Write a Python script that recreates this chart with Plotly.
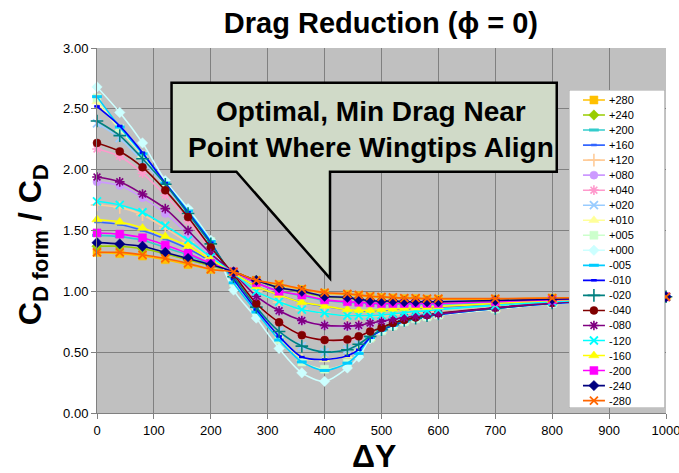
import plotly.graph_objects as go

# ---------------- data ----------------
dY = [0, 40, 80, 120, 160, 200, 240, 280, 320, 360, 400, 440, 460, 480, 500, 520, 540, 560, 580, 600, 700, 800, 900, 1000]

series_names = ["+280", "+240", "+200", "+160", "+120", "+080", "+040", "+020", "+010", "+005", "+000",
                "-005", "-010", "-020", "-040", "-080", "-120", "-160", "-200", "-240", "-280"]

p280 = [1.32, 1.31, 1.29, 1.26, 1.22, 1.18, 1.16, 1.09, 1.055, 1.015, 0.985, 0.975, 0.965, 0.955, 0.95, 0.945, 0.94, 0.94, 0.935, 0.935, 0.935, 0.945, 0.95, 0.955]
p240 = [1.37, 1.37, 1.35, 1.31, 1.26, 1.21, 1.16, 1.09, 1.03, 0.995, 0.955, 0.945, 0.93, 0.92, 0.915, 0.915, 0.91, 0.91, 0.91, 0.91, 0.92, 0.935, 0.945, 0.955]
p200 = [1.46, 1.45, 1.42, 1.36, 1.30, 1.22, 1.16, 1.07, 1.00, 0.965, 0.925, 0.91, 0.905, 0.90, 0.895, 0.895, 0.895, 0.895, 0.895, 0.895, 0.91, 0.93, 0.945, 0.955]
p160 = [1.57, 1.55, 1.50, 1.43, 1.35, 1.25, 1.15, 1.04, 0.97, 0.91, 0.875, 0.85, 0.84, 0.84, 0.845, 0.85, 0.855, 0.86, 0.865, 0.87, 0.895, 0.92, 0.94, 0.955]
p120 = [1.71, 1.69, 1.63, 1.52, 1.40, 1.27, 1.15, 1.00, 0.91, 0.85, 0.82, 0.80, 0.795, 0.795, 0.80, 0.81, 0.82, 0.83, 0.835, 0.845, 0.88, 0.91, 0.935, 0.955]
p080 = [1.90, 1.87, 1.77, 1.64, 1.47, 1.30, 1.15, 0.96, 0.84, 0.76, 0.72, 0.71, 0.715, 0.735, 0.75, 0.765, 0.78, 0.79, 0.80, 0.81, 0.86, 0.90, 0.93, 0.955]
p040 = [2.17, 2.11, 1.97, 1.79, 1.58, 1.35, 1.14, 0.90, 0.745, 0.64, 0.60, 0.60, 0.625, 0.665, 0.695, 0.735, 0.76, 0.78, 0.80, 0.815, 0.86, 0.90, 0.93, 0.955]
p020 = [2.38, 2.26, 2.07, 1.87, 1.63, 1.38, 1.12, 0.87, 0.67, 0.55, 0.50, 0.52, 0.56, 0.625, 0.68, 0.72, 0.755, 0.775, 0.795, 0.81, 0.855, 0.90, 0.93, 0.955]
p010 = [2.56, 2.33, 2.12, 1.89, 1.65, 1.40, 1.10, 0.85, 0.62, 0.45, 0.44, 0.47, 0.52, 0.615, 0.675, 0.715, 0.75, 0.775, 0.79, 0.805, 0.855, 0.90, 0.93, 0.955]
p005 = [2.59, 2.34, 2.12, 1.89, 1.66, 1.41, 1.07, 0.83, 0.60, 0.42, 0.36, 0.41, 0.49, 0.615, 0.675, 0.715, 0.75, 0.775, 0.79, 0.805, 0.855, 0.90, 0.93, 0.955]
p000 = [2.68, 2.47, 2.22, 1.91, 1.68, 1.42, 1.01, 0.78, 0.53, 0.33, 0.26, 0.37, 0.46, 0.61, 0.675, 0.715, 0.75, 0.775, 0.79, 0.805, 0.855, 0.90, 0.93, 0.955]
m005 = [2.60, 2.35, 2.13, 1.89, 1.66, 1.41, 1.07, 0.83, 0.60, 0.42, 0.35, 0.41, 0.49, 0.62, 0.68, 0.72, 0.755, 0.775, 0.795, 0.81, 0.86, 0.90, 0.93, 0.955]
m010 = [2.52, 2.36, 2.14, 1.89, 1.65, 1.40, 1.10, 0.85, 0.63, 0.46, 0.44, 0.47, 0.52, 0.62, 0.68, 0.72, 0.755, 0.78, 0.795, 0.81, 0.86, 0.90, 0.93, 0.955]
m020 = [2.40, 2.28, 2.09, 1.88, 1.64, 1.39, 1.12, 0.87, 0.67, 0.55, 0.50, 0.52, 0.565, 0.63, 0.685, 0.725, 0.76, 0.78, 0.80, 0.815, 0.86, 0.905, 0.93, 0.955]
m040 = [2.22, 2.15, 2.02, 1.83, 1.61, 1.36, 1.14, 0.90, 0.745, 0.64, 0.60, 0.605, 0.63, 0.67, 0.70, 0.74, 0.765, 0.785, 0.805, 0.82, 0.865, 0.905, 0.93, 0.955]
m080 = [1.94, 1.90, 1.80, 1.68, 1.50, 1.31, 1.15, 0.96, 0.84, 0.76, 0.72, 0.715, 0.72, 0.74, 0.755, 0.77, 0.785, 0.795, 0.805, 0.815, 0.865, 0.905, 0.93, 0.955]
m120 = [1.74, 1.71, 1.65, 1.54, 1.42, 1.28, 1.15, 1.00, 0.915, 0.85, 0.82, 0.80, 0.80, 0.80, 0.805, 0.815, 0.825, 0.835, 0.84, 0.85, 0.885, 0.915, 0.935, 0.955]
m160 = [1.59, 1.57, 1.52, 1.45, 1.37, 1.26, 1.15, 1.04, 0.97, 0.91, 0.88, 0.85, 0.845, 0.845, 0.85, 0.855, 0.86, 0.865, 0.87, 0.875, 0.90, 0.925, 0.94, 0.955]
m200 = [1.48, 1.47, 1.44, 1.38, 1.31, 1.23, 1.16, 1.07, 1.00, 0.97, 0.93, 0.915, 0.91, 0.905, 0.90, 0.90, 0.90, 0.90, 0.90, 0.90, 0.915, 0.93, 0.945, 0.955]
m240 = [1.40, 1.39, 1.37, 1.32, 1.27, 1.22, 1.16, 1.09, 1.03, 1.00, 0.96, 0.95, 0.935, 0.925, 0.92, 0.92, 0.915, 0.915, 0.915, 0.915, 0.925, 0.935, 0.945, 0.955]
m280 = [1.32, 1.32, 1.30, 1.27, 1.23, 1.18, 1.16, 1.09, 1.06, 1.02, 0.99, 0.98, 0.97, 0.96, 0.955, 0.95, 0.945, 0.945, 0.94, 0.94, 0.94, 0.945, 0.95, 0.955]

series_values = [p280, p240, p200, p160, p120, p080, p040, p020, p010, p005, p000,
                 m005, m010, m020, m040, m080, m120, m160, m200, m240, m280]

x_ticks = [0, 100, 200, 300, 400, 500, 600, 700, 800, 900, 1000]
y_ticks = [0.0, 0.5, 1.0, 1.5, 2.0, 2.5, 3.0]

# ---------------- styles ----------------
colors = ["#FFC000", "#99CC00", "#33CCCC", "#3366FF", "#FFCC99", "#CC99FF", "#FF99CC", "#99CCFF", "#FFFF99", "#CCFFCC", "#CCFFFF",
          "#00CCFF", "#0000FF", "#008080", "#800000", "#800080", "#00FFFF", "#FFFF00", "#FF00FF", "#000080", "#FF6600"]
symbols = ["square", "diamond", "dash", "dot", "plus", "circle", "star", "x", "triangle-up", "square", "diamond",
           "dash", "dot", "plus", "circle", "star", "x", "triangle-up", "square", "diamond", "x"]

FONT = "Liberation Sans, Arial, sans-serif"


def marker_style(sym, col):
    if sym == "dash":
        return dict(symbol="line-ew", size=7, color=col, line=dict(width=3, color=col))
    if sym == "dot":
        return dict(symbol="line-ew", size=4, color=col, line=dict(width=2.5, color=col))
    if sym == "plus":
        return dict(symbol="cross-thin-open", size=9, color=col, line=dict(width=1.6, color=col))
    if sym == "star":
        return dict(symbol="asterisk-open", size=8, color=col, line=dict(width=1.6, color=col))
    if sym == "x":
        return dict(symbol="x-thin-open", size=8, color=col, line=dict(width=1.8, color=col))
    if sym == "triangle-up":
        return dict(symbol="triangle-up", size=9, color=col, line=dict(width=0.5, color=col))
    if sym == "circle":
        return dict(symbol="circle", size=8, color=col, line=dict(width=0.5, color=col))
    if sym == "diamond":
        return dict(symbol="diamond", size=8, color=col, line=dict(width=0.5, color=col))
    return dict(symbol="square", size=8, color=col, line=dict(width=0.5, color=col))


fig = go.Figure()

for name, vals, col, sym in zip(series_names, series_values, colors, symbols):
    fig.add_trace(go.Scatter(
        x=dY, y=vals, name=name, mode="lines+markers",
        line=dict(color=col, width=1.6, shape="spline", smoothing=0.8),
        marker=marker_style(sym, col), cliponaxis=False, showlegend=False,
        xaxis="x", yaxis="y"))

# ---------------- custom legend (inset axes) ----------------
LX0, LXM, LX1, LXT = 0.146, 0.26, 0.375, 0.40
ROW_TOP, ROW_BOT = 0.665, -20.49
for i, (name, col, sym) in enumerate(zip(series_names, colors, symbols)):
    row = -i
    fig.add_trace(go.Scatter(x=[LX0, LX1], y=[row, row], mode="lines",
                             line=dict(color=col, width=1.6), showlegend=False,
                             xaxis="x2", yaxis="y2", hoverinfo="skip"))
    fig.add_trace(go.Scatter(x=[LXM], y=[row], mode="markers",
                             marker=marker_style(sym, col), showlegend=False,
                             xaxis="x2", yaxis="y2", hoverinfo="skip"))
    fig.add_annotation(x=LXT, y=row, xref="x2", yref="y2", text=name, showarrow=False,
                       xanchor="left", yanchor="middle", font=dict(family=FONT, size=11, color="black"))

fig.add_shape(type="rect", xref="x2", yref="y2", x0=0, x1=1, y0=ROW_BOT, y1=ROW_TOP,
              fillcolor="white", line=dict(color="#A0A0A0", width=1), layer="below")
fig.add_annotation(x=0.56, y=1.55, xref="x2", yref="y2", text="<b>Δ Z</b>", showarrow=False,
                   xanchor="center", yanchor="middle", font=dict(family=FONT, size=14, color="black"))

# ---------------- callout ----------------
fig.add_shape(type="path", xref="x", yref="y",
              path="M 131,2.714 L 808,2.714 L 808,1.983 L 409.5,1.983 L 409.5,1.107 L 245,1.983 L 131,1.983 Z",
              fillcolor="#D0DAC8", line=dict(color="black", width=2.5), layer="above")
fig.add_annotation(x=481, y=2.33, xref="x", yref="y",
                   text="<b>Optimal, Min Drag Near<br>Point Where Wingtips Align</b>",
                   showarrow=False, xanchor="center", yanchor="middle",
                   font=dict(family=FONT, size=28, color="black"))

# ---------------- axis titles ----------------
fig.add_annotation(x=0.487, y=-0.117, xref="paper", yref="paper", text="<b>ΔY</b>", showarrow=False,
                   xanchor="center", yanchor="middle", font=dict(family=FONT, size=32, color="black"))
fig.add_annotation(x=-0.114, y=0.46, xref="paper", yref="paper",
                   text="<b>C<sub>D form</sub> / C<sub>D</sub></b>", showarrow=False, textangle=-90,
                   xanchor="center", yanchor="middle", font=dict(family=FONT, size=32, color="black"))

fig.update_layout(
    width=679, height=473,
    margin=dict(l=97, r=13, t=48, b=60, autoexpand=False),
    paper_bgcolor="white", plot_bgcolor="#C0C0C0",
    title=dict(text="<b>Drag Reduction (ϕ = 0)</b>", x=0.561, xanchor="center", y=0.952, yanchor="middle",
               font=dict(family=FONT, size=29, color="black")),
    xaxis=dict(range=[0, 1000], tickvals=x_ticks, ticktext=[str(t) for t in x_ticks],
               showgrid=True, gridcolor="#808080", gridwidth=1, zeroline=False,
               showline=True, linecolor="#808080", linewidth=1, mirror=False, automargin=False,
               ticks="outside", ticklen=5, tickcolor="#808080", ticklabeloverflow="allow",
               tickfont=dict(family=FONT, size=13, color="black"), fixedrange=True, domain=[0, 1]),
    yaxis=dict(range=[0, 3], tickvals=y_ticks, ticktext=["%.2f" % t for t in y_ticks],
               showgrid=True, gridcolor="#808080", gridwidth=1, zeroline=False,
               showline=True, linecolor="#808080", linewidth=1, automargin=False,
               ticks="outside", ticklen=5, tickcolor="#808080", ticklabeloverflow="allow",
               tickfont=dict(family=FONT, size=13, color="black"), fixedrange=True, domain=[0, 1]),
    xaxis2=dict(domain=[0.8295, 0.998], range=[0, 1], visible=False, anchor="y2", fixedrange=True, automargin=False),
    yaxis2=dict(domain=[0.0137, 0.885], range=[ROW_BOT, ROW_TOP], visible=False, anchor="x2", fixedrange=True, automargin=False),
    showlegend=False,
)

fig.write_html("out.html", config={"displayModeBar": False},
               post_script="document.body.style.margin='0';document.body.style.overflow='hidden';")
